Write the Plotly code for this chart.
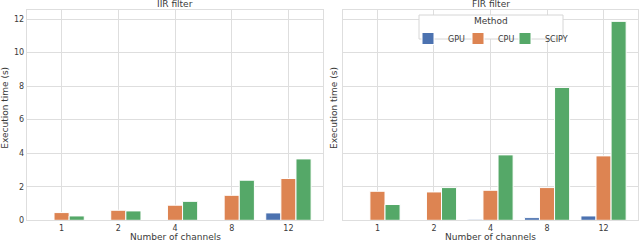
import plotly.graph_objects as go

channels = ["1", "2", "4", "8", "12"]
methods = ["GPU", "CPU", "SCIPY"]
colors = {"GPU": "#4C72B0", "CPU": "#DD8452", "SCIPY": "#55A868"}

iir_gpu = [0.0, 0.0, 0.0, 0.0, 0.44]
iir_cpu = [0.46, 0.60, 0.90, 1.49, 2.49]
iir_scipy = [0.26, 0.56, 1.13, 2.39, 3.66]

fir_gpu = [0.0, 0.01, 0.06, 0.16, 0.26]
fir_cpu = [1.73, 1.69, 1.79, 1.95, 3.84]
fir_scipy = [0.94, 1.95, 3.90, 7.92, 11.86]

y_ticks = [0, 2, 4, 6, 8, 10, 12]

W, H = 640, 242
grid = "#dedede"
txt = "#3a3a3a"
font = "DejaVu Sans"

legend_ids = {"GPU": "legend", "CPU": "legend2", "SCIPY": "legend3"}
legend_px = {"GPU": 408, "CPU": 458, "SCIPY": 505}

fig = go.Figure()
panels = [
    ("x", "y", {"GPU": iir_gpu, "CPU": iir_cpu, "SCIPY": iir_scipy}, False),
    ("x2", "y2", {"GPU": fir_gpu, "CPU": fir_cpu, "SCIPY": fir_scipy}, True),
]
for xa, ya, data, show in panels:
    for m in methods:
        fig.add_trace(go.Bar(
            x=channels, y=data[m], name=m, xaxis=xa, yaxis=ya,
            marker=dict(color=colors[m], line=dict(color="white", width=1)),
            showlegend=show, legendgroup=m, legend=legend_ids[m],
        ))

def px_x(p):
    return p / W

def px_y(p):
    return 1 - p / H

xd1 = [px_x(26.7), px_x(323.3)]
xd2 = [px_x(342.7), px_x(638.3)]
yd = [px_y(220.3), px_y(10.3)]

xcommon = dict(
    type="category", range=[-0.615, 4.615], showgrid=True, gridcolor=grid,
    gridwidth=1, showline=True, linecolor=grid, linewidth=1, mirror=True,
    ticks="", tickfont=dict(size=8, color=txt, family=font), automargin=False,
    zeroline=False,
)
ycommon = dict(
    range=[0, 12.52], tickvals=y_ticks, showgrid=True, gridcolor=grid,
    gridwidth=1, showline=True, linecolor=grid, linewidth=1, mirror=True,
    ticks="", zeroline=False, tickfont=dict(size=8, color=txt, family=font),
    automargin=False,
)

tfont = dict(size=9, color=txt, family=font)
annotations = []
for xd, title in [(xd1, "IIR filter"), (xd2, "FIR filter")]:
    cx = (xd[0] + xd[1]) / 2
    annotations.append(dict(text=title, x=cx, y=yd[1], xref="paper", yref="paper",
                            xanchor="center", yanchor="bottom", showarrow=False,
                            yshift=-1, font=tfont))
    annotations.append(dict(text="Number of channels", x=cx, y=0, xref="paper", yref="paper",
                            xanchor="center", yanchor="bottom", showarrow=False,
                            yshift=-2, font=tfont))
for xp in [4.8, 334.0]:
    annotations.append(dict(text="Execution time (s)", x=px_x(xp), y=px_y(108), xref="paper",
                            yref="paper", xanchor="center", yanchor="middle", textangle=-90,
                            showarrow=False, font=tfont))
# legend title
annotations.append(dict(text="Method", x=px_x(491), y=px_y(21), xref="paper", yref="paper",
                        xanchor="center", yanchor="middle", showarrow=False, font=tfont))

shapes = [dict(type="rect", xref="paper", yref="paper", layer="above",
               x0=px_x(419), x1=px_x(563), y0=px_y(39), y1=px_y(15),
               fillcolor="white", line=dict(color="#d6d6d6", width=1))]

legend_common = dict(
    orientation="h", xanchor="left", y=px_y(24), yanchor="top",
    bgcolor="rgba(0,0,0,0)", borderwidth=0,
    font=dict(size=8, color=txt, family=font), itemwidth=30, tracegroupgap=0,
)

fig.update_layout(
    width=W, height=H,
    margin=dict(l=0, r=0, t=0, b=0),
    paper_bgcolor="white", plot_bgcolor="white",
    barmode="group", bargap=0.2, bargroupgap=0,
    font=dict(family=font, color=txt, size=8),
    xaxis=dict(domain=xd1, anchor="y", **xcommon),
    xaxis2=dict(domain=xd2, anchor="y2", **xcommon),
    yaxis=dict(domain=yd, anchor="x", **ycommon),
    yaxis2=dict(domain=yd, anchor="x2", matches="y", showticklabels=False, **ycommon),
    legend=dict(x=px_x(legend_px["GPU"]), **legend_common),
    legend2=dict(x=px_x(legend_px["CPU"]), **legend_common),
    legend3=dict(x=px_x(legend_px["SCIPY"]), **legend_common),
    shapes=shapes,
    annotations=annotations,
)

fig.write_html("out.html", config={"displayModeBar": False},
               post_script="document.body.style.margin='0';document.body.style.padding='0';")
